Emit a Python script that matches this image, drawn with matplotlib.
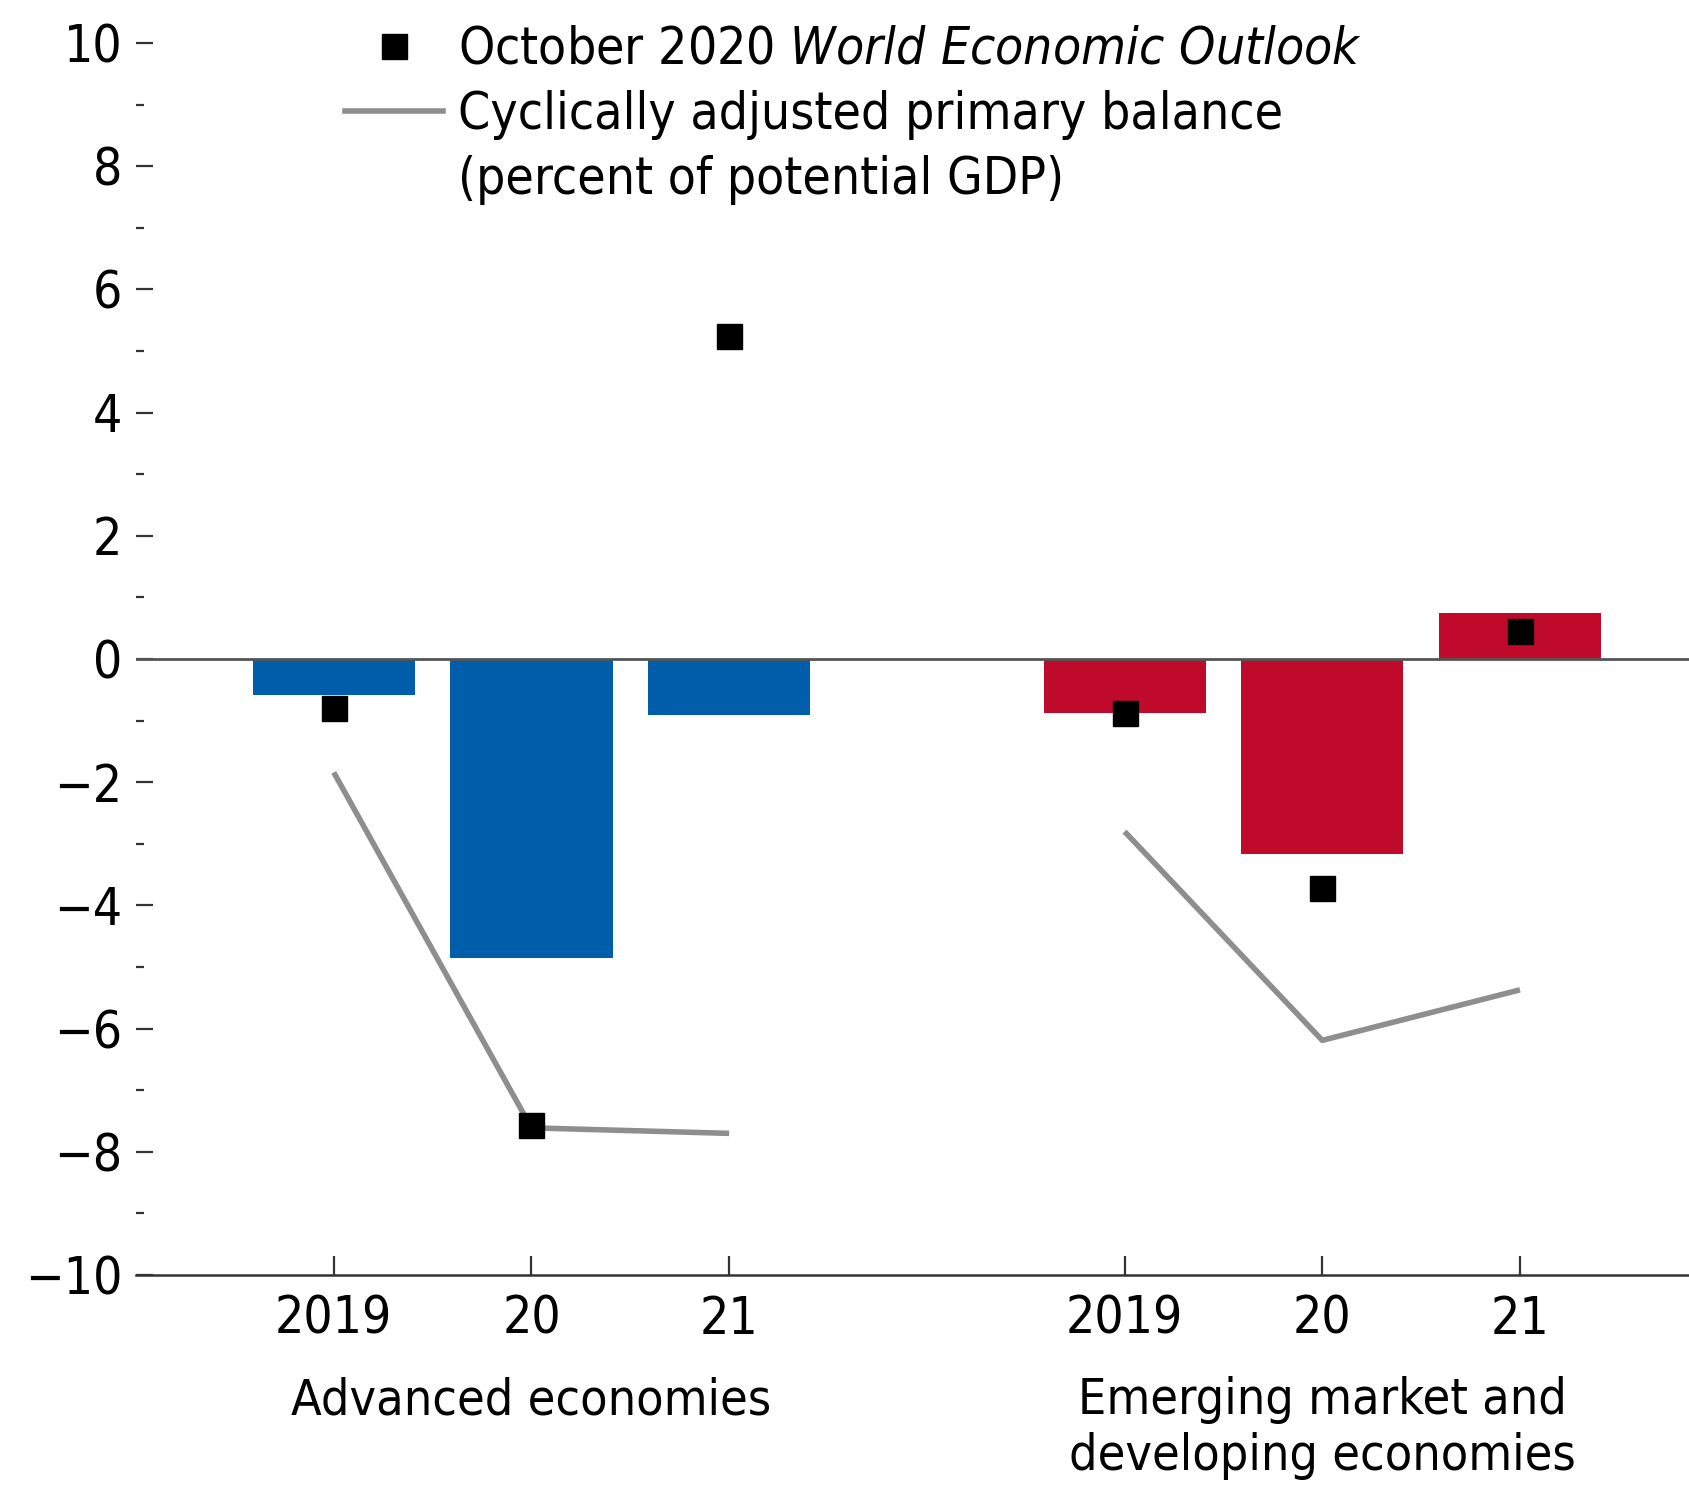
import numpy as np
import matplotlib
matplotlib.use("Agg")
import matplotlib.pyplot as plt
from matplotlib.lines import Line2D

plt.rcParams['font.family'] = ['DejaVu Sans']
plt.rcParams['font.stretch'] = 'condensed'
plt.rcParams['mathtext.fontset'] = 'custom'
plt.rcParams['mathtext.rm'] = 'DejaVu Sans:stretch=condensed'
plt.rcParams['mathtext.it'] = 'DejaVu Sans:italic:stretch=condensed'

# data
years = ['2019', '20', '21']
groups = ['Advanced economies', 'Emerging market and\ndeveloping economies']
ae_bar = [-0.58, -4.86, -0.91]
em_bar = [-0.87, -3.17, 0.75]
ae_weo = [-0.80, -7.56, 5.25]
em_weo = [-0.87, -3.71, 0.45]
ae_capb = [-1.84, -7.61, -7.70]
em_capb = [-2.80, -6.19, -5.37]

blue = '#005EAA'
red = '#C00A2C'
grey = '#8E8E8E'
fs = 37

fig = plt.figure(figsize=(16.9, 14.92), dpi=100)
ax = fig.add_axes([0.0805, 0.1454, 0.9195, 0.8258])

x_ae = np.arange(3)
x_em = np.arange(3) + 4
w = 0.82

ax.bar(x_ae, ae_bar, width=w, color=blue, zorder=2)
ax.bar(x_em, em_bar, width=w, color=red, zorder=2)
ax.axhline(0, color='#555555', lw=2.0, zorder=3)

ax.plot(x_ae, ae_capb, color=grey, lw=4, zorder=3, solid_capstyle='butt')
ax.plot(x_em, em_capb, color=grey, lw=4, zorder=3, solid_capstyle='butt')
ax.plot(x_ae, ae_weo, 's', color='black', ms=18, ls='none', zorder=4)
ax.plot(x_em, em_weo, 's', color='black', ms=18, ls='none', zorder=4)

ax.set_xlim(-1.0, 6.86)
ax.set_ylim(-10, 10)
ax.set_yticks(np.arange(-10, 11, 2))
ax.set_yticks(np.arange(-9, 10, 2), minor=True)
ax.set_yticklabels([str(v).replace('-', '\u2212') for v in range(-10, 11, 2)])
ax.set_xticks(list(x_ae) + list(x_em))
ax.set_xticklabels(years + years)

for s in ['top', 'right', 'left']:
    ax.spines[s].set_visible(False)
ax.spines['bottom'].set_linewidth(1.8)
ax.spines['bottom'].set_color('#333333')

ax.tick_params(axis='y', which='major', direction='in', length=12, width=1.6,
               pad=10, labelsize=fs, color='#333333')
ax.tick_params(axis='y', which='minor', direction='in', length=6, width=1.6, color='#333333')
ax.tick_params(axis='x', which='major', direction='in', length=14, width=1.6,
               pad=14, labelsize=fs, color='#333333')

tr = ax.get_xaxis_transform()
ax.text(1, -0.082, groups[0], transform=tr, ha='center', va='top', fontsize=fs - 1)
ax.text(5, -0.082, groups[1], transform=tr, ha='center', va='top', fontsize=fs - 1,
        linespacing=1.2)

handles = [
    Line2D([], [], marker='s', color='black', ms=18, ls='none'),
    Line2D([], [], color=grey, lw=4),
    Line2D([], [], color='none'),
]
labels = [
    r'October 2020 $World\ Economic\ Outlook$',
    'Cyclically adjusted primary balance',
    '(percent of potential GDP)',
]
ax.legend(handles, labels, loc='upper left', bbox_to_anchor=(0.1345, 1.015),
          frameon=False, fontsize=fs, borderpad=0, borderaxespad=0,
          handlelength=1.9, handletextpad=0.3, labelspacing=0.3)

fig.savefig('out.png', dpi=100)
